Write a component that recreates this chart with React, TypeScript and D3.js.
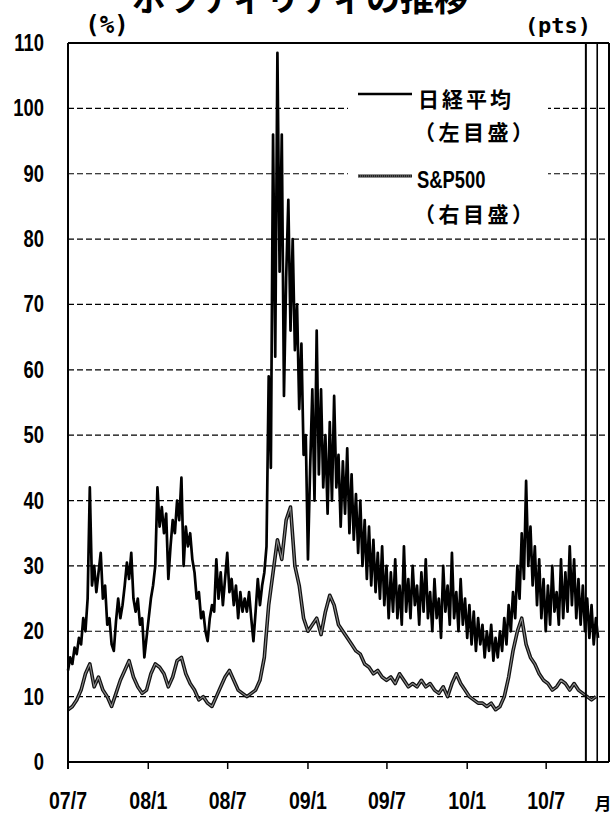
import React from "react";
import * as d3 from "d3";

const titleText = "ボラティリティの推移";
const leftUnit = "(%)";
const rightUnit = "(pts)";
const monthLabel = "月";
const yTicks = [0, 10, 20, 30, 40, 50, 60, 70, 80, 90, 100, 110];
const seriesNames = ["日経平均", "S&P500"];
const seriesNotes = ["（左目盛）", "（右目盛）"];

const domainStart = "2007-07-01";
const domainEnd = "2010-11-22";
const tickStart = "2007-07-01";
const tickEnd = "2010-07-01";
const boundaryDates = ["2010-09-30", "2010-10-26"];

// 日経平均 (VI) – readings every 5 days from 2007-07-01
const nikkeiStart = "2007-07-01";
const nikkeiStepDays = 5;
const nikkeiValues = [
  14, 16, 15, 17.5, 16.5, 19, 18, 22, 20, 25,
  42, 27, 30, 26, 29, 32, 25, 27, 21, 22,
  18, 17, 21.5, 25, 22, 24, 27, 30.5, 28, 32,
  25, 23, 25, 21, 22, 16, 19, 22, 25, 27,
  30, 42, 36, 39, 35, 38, 28, 33, 37, 35,
  40, 37, 43.5, 30, 36, 33, 35, 31, 29, 25,
  26, 22, 23, 20, 18.5, 22, 24, 23, 31, 25,
  29, 24, 28, 32, 26, 28, 24, 27, 22, 26,
  23, 25, 23, 26, 22, 18.5, 23, 28, 24, 27,
  29, 33, 59, 45, 96, 62, 108.5, 75, 96, 56,
  74, 86, 66, 80, 63, 70, 54, 64, 47, 50,
  31, 45, 57, 40, 66, 44, 57, 42, 50, 38,
  52, 40, 56, 42, 47, 36, 46, 38, 48, 35,
  44, 34, 41, 32, 40, 30, 37, 28, 36, 27,
  34, 26, 32, 25, 33, 24, 30, 22, 29, 23,
  31, 22, 27, 21, 33, 23, 28, 22, 30, 24,
  27, 21, 29, 23, 31, 22, 26, 20, 28, 22,
  25, 19, 30, 23, 27, 21, 32, 22, 26, 20,
  28, 21, 25, 19, 24, 18, 23, 17, 22, 18,
  21, 16, 20, 17, 21, 15.5, 19, 16, 20, 17,
  22, 18, 24, 20, 26, 22, 30, 25, 35, 28,
  43, 30, 36, 27, 33, 24, 31, 22, 28, 20,
  27, 21, 30, 23, 26, 21, 31, 22, 29, 23,
  33, 24, 31, 22, 28, 21, 27, 20, 25, 19,
  24, 18, 22, 19,
];

// S&P500 – readings every 10 days from 2007-07-01 (drawn against the same grid)
const spStart = "2007-07-01";
const spStepDays = 10;
const spValues = [
  8, 8.5, 9.5, 11, 13.5, 15, 11.5, 13, 11, 10,
  8.5, 10.5, 12.5, 14, 15.5, 13, 11.5, 10.5, 11, 13.5,
  15, 14.5, 13.5, 11.5, 13, 15.5, 16, 13.5, 12, 11,
  9.5, 10, 9, 8.5, 10, 11.5, 13, 14, 12.5, 11,
  10.5, 10, 10.5, 11, 12.5, 16, 24, 29, 34, 31,
  37, 39, 30, 27, 22, 20, 21, 22, 19.5, 23,
  25.5, 24, 21, 20, 19, 18, 17, 16.5, 15, 14.5,
  13.5, 14, 13, 12.5, 13, 12, 13.5, 12.5, 11.5, 12,
  11.5, 12.5, 11.5, 12, 11, 10.5, 11.5, 10, 12, 13.5,
  12, 11, 10, 9.5, 9, 9, 8.5, 9, 8, 8.5,
  10, 13, 17, 20, 22, 18, 16, 15, 13.5, 12.5,
  12, 11, 11.5, 12.5, 12, 11, 12, 11, 10.5, 10,
  9.5, 10,
];

const W = 616;
const H = 816;
const PL = 68, PR = 609, PT = 43, PB = 762;

const parse = d3.timeParse("%Y-%m-%d");
const fmt = d3.timeFormat("%y/%-m");
const numFont = "'Liberation Sans', Arial, sans-serif";
const cjkFont = "'Noto Sans CJK JP', 'Noto Sans CJK SC', sans-serif";
const monoFont = "'DejaVu Sans Mono', 'Liberation Mono', monospace";

export default function App() {
  const x = d3.scaleTime().domain([parse(domainStart)!, parse(domainEnd)!]).range([PL, PR]);
  const y = d3.scaleLinear().domain([0, 110]).range([PB, PT]);

  const nk = nikkeiValues.map((v, i) => ({ date: d3.timeDay.offset(parse(nikkeiStart)!, i * nikkeiStepDays), v }));
  const sp = spValues.map((v, i) => ({ date: d3.timeDay.offset(parse(spStart)!, i * spStepDays), v }));
  const line = d3
    .line<{ date: Date; v: number }>()
    .x((d) => x(d.date))
    .y((d) => y(d.v));

  const ticks = d3.timeMonth.every(6)!.range(parse(tickStart)!, d3.timeDay.offset(parse(tickEnd)!, 1));

  const legX = 348, legW = 200;
  const legendItems = [
    { name: seriesNames[0], note: seriesNotes[0], ly: 94 },
    { name: seriesNames[1], note: seriesNotes[1], ly: 176 },
  ];

  return (
    <svg width={W} height={H} style={{ position: "absolute", left: 0, top: 0, display: "block", background: "#fff" }}>
      <rect x={0} y={0} width={W} height={H} fill="#fff" />
      {/* title (clipped at top, as in the reference) */}
      <text x={300} y={11} textAnchor="middle" fontFamily={cjkFont} fontWeight={700} fontSize={34} fill="#000">
        {titleText}
      </text>
      <text x={107} y={33} textAnchor="middle" fontFamily={monoFont} fontWeight={700} fontSize={24} fill="#000">
        {leftUnit}
      </text>
      <text x={558} y={33} textAnchor="middle" fontFamily={monoFont} fontWeight={700} fontSize={22} fill="#000">
        {rightUnit}
      </text>

      {/* gridlines */}
      {yTicks.filter((t) => t > 0 && t < 110).map((t) => (
        <line key={t} x1={PL} x2={PR} y1={y(t)} y2={y(t)} stroke="#000" strokeWidth={1.2} strokeDasharray="6,3" />
      ))}

      {/* legend background */}
      <rect x={legX} y={76} width={legW} height={150} fill="#fff" />

      {/* y labels */}
      {yTicks.map((t) => (
        <text
          key={t}
          transform={`translate(44,${y(t) + 8}) scale(0.8,1)`}
          textAnchor="end"
          fontFamily={numFont}
          fontWeight={700}
          fontSize={23}
          fill="#000"
        >
          {t}
        </text>
      ))}

      {/* x ticks & labels */}
      {ticks.map((d) => (
        <g key={+d}>
          <line x1={x(d)} x2={x(d)} y1={PB} y2={PB + 7} stroke="#000" strokeWidth={1.5} />
          <text
            transform={`translate(${x(d)},809) scale(0.85,1)`}
            textAnchor="middle"
            fontFamily={numFont}
            fontWeight={700}
            fontSize={23}
            fill="#000"
          >
            {fmt(d)}
          </text>
        </g>
      ))}
      <text x={603} y={810} textAnchor="middle" fontFamily={cjkFont} fontWeight={700} fontSize={17} fill="#000">
        {monthLabel}
      </text>

      {/* series */}
      <path d={line(sp) || ""} fill="none" stroke="#111" strokeWidth={3.6} strokeLinejoin="round" />
      <path d={line(sp) || ""} fill="none" stroke="#8a8a8a" strokeWidth={1.1} strokeLinejoin="round" />
      <path d={line(nk) || ""} fill="none" stroke="#000" strokeWidth={2.7} strokeLinejoin="round" />

      {/* frame */}
      <line x1={PL} x2={PR} y1={PT} y2={PT} stroke="#000" strokeWidth={2} />
      <line x1={PL} x2={PR} y1={PB} y2={PB} stroke="#000" strokeWidth={2} />
      <line x1={PL} x2={PL} y1={PT} y2={PB + 7} stroke="#000" strokeWidth={2} />
      {boundaryDates.map((s, i) => (
        <line key={s} x1={x(parse(s)!)} x2={x(parse(s)!)} y1={PT} y2={PB} stroke="#000" strokeWidth={i === 0 ? 2 : 1.6} />
      ))}
      <line x1={PR} x2={PR} y1={PT} y2={PB} stroke="#000" strokeWidth={2} />

      {/* legend */}
      {legendItems.map((it, i) => (
        <g key={it.name}>
          {i === 0 ? (
            <line x1={358} x2={412} y1={it.ly} y2={it.ly} stroke="#000" strokeWidth={2.4} />
          ) : (
            <g>
              <line x1={358} x2={412} y1={it.ly} y2={it.ly} stroke="#222" strokeWidth={3} />
              <line x1={358} x2={412} y1={it.ly} y2={it.ly} stroke="#888" strokeWidth={1} strokeDasharray="1,1" />
            </g>
          )}
          {i === 0 ? (
            <text x={418} y={it.ly + 13} fontFamily={cjkFont} fontWeight={700} fontSize={21} letterSpacing={3} fill="#000">
              {it.name}
            </text>
          ) : (
            <text
              transform={`translate(417,${it.ly + 12}) scale(0.8,1)`}
              fontFamily={numFont}
              fontWeight={700}
              fontSize={23}
              fill="#000"
            >
              {it.name}
            </text>
          )}
          <text x={414} y={it.ly + 46} fontFamily={cjkFont} fontWeight={700} fontSize={21} letterSpacing={3.5} fill="#000">
            {it.note}
          </text>
        </g>
      ))}
    </svg>
  );
}
